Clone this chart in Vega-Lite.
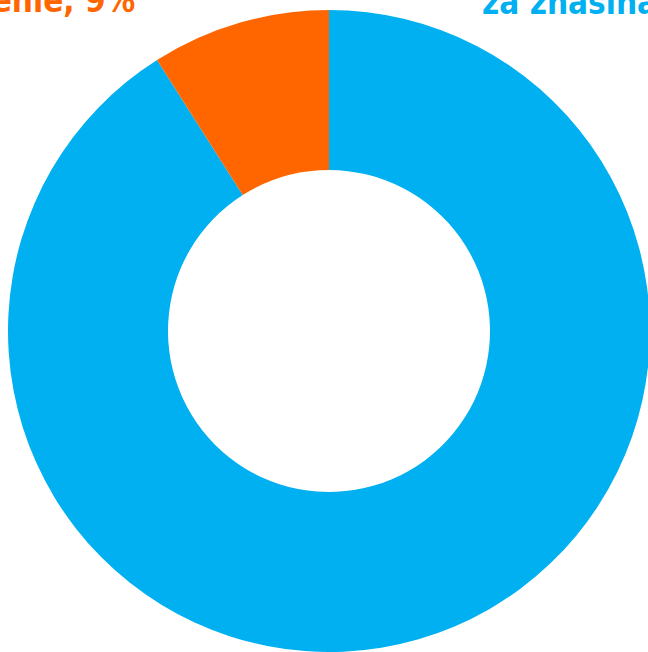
{
  "$schema": "https://vega.github.io/schema/vega-lite/v6.json",
  "width": 658,
  "height": 662,
  "autosize": {"type": "none"},
  "padding": 0,
  "background": "white",
  "config": {"view": {"stroke": null}},
  "data": {
    "values": [
      {"category": "za zhasínanie", "value": 91, "order": 1, "label": "za zhasínanie, 91%"},
      {"category": "za svietenie", "value": 9, "order": 2, "label": "za svietenie, 9%"}
    ]
  },
  "layer": [
    {
      "mark": {"type": "arc", "outerRadius": 321, "innerRadius": 161},
      "encoding": {
        "theta": {"field": "value", "type": "quantitative", "stack": true},
        "color": {
          "field": "category",
          "type": "nominal",
          "scale": {"domain": ["za zhasínanie", "za svietenie"], "range": ["#00B0F0", "#FF6600"]},
          "legend": null
        },
        "order": {"field": "order", "type": "quantitative"}
      }
    },
    {
      "transform": [{"filter": "datum.order == 2"}],
      "mark": {"type": "text", "theta": -0.546, "radius": 373, "align": "right", "baseline": "alphabetic", "font": "DejaVu Sans Condensed, Liberation Sans", "fontWeight": "bold", "fontSize": 33, "color": "#FF6600"},
      "encoding": {"text": {"field": "label"}}
    },
    {
      "transform": [{"filter": "datum.order == 1"}],
      "mark": {"type": "text", "theta": 0.4497, "radius": 352, "align": "left", "baseline": "alphabetic", "font": "DejaVu Sans Condensed, Liberation Sans", "fontWeight": "bold", "fontSize": 33, "color": "#00B0F0"},
      "encoding": {"text": {"field": "label"}}
    }
  ]
}
